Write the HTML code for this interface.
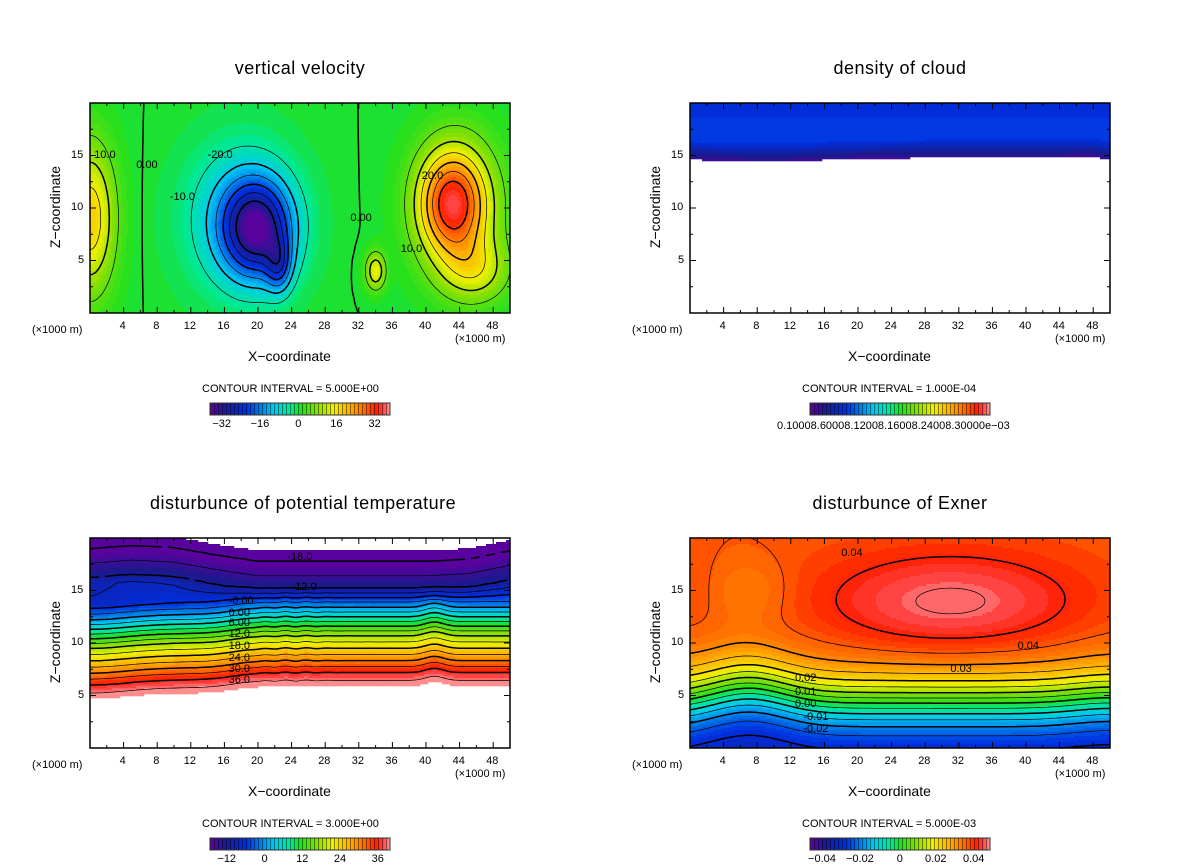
<!DOCTYPE html>
<html><head><meta charset="utf-8">
<style>
body{margin:0;background:#fff;width:1200px;height:868px;overflow:hidden;position:relative;font-family:"Liberation Sans",sans-serif;}
.t{position:absolute;white-space:nowrap;color:#000;z-index:3;}
.title{font-size:18px;letter-spacing:0.5px;text-align:center;width:300px;}
.ax{font-size:14px;}
.tk{font-size:11px;}
.ci{font-size:11px;}
</style></head>
<body>
<svg id="frames" width="1200" height="868" style="position:absolute;left:0;top:0;"></svg>
<script>
// ---- data arrays ----
const vvBlobX = [20, 22.5, 18, 43, 0, 34, 46, 44];
const vvBlobZ = [8, 4.5, 9, 10.5, 9, 4, 4, 10];
const vvBlobAmp = [-28, -14, -12, 24, 18, 14, 10, 12];
const vvBlobSx = [4, 1.5, 6, 3.8, 3, 1.2, 4, 5];
const vvBlobSz = [4.5, 2.5, 6.5, 4.8, 7, 1.8, 3, 6.5];
const ptZ = [5.2, 6.0, 6.5, 8.0, 10.0, 12.7, 13.8, 15.0, 17.8, 18.8];
const ptV = [41, 38, 36, 28, 18, 0, -6, -12, -18, -21];
const ptShiftX = [0, 5, 10, 15, 20, 30, 40, 45, 50];
const ptShift = [1.2, 1.5, 1.3, 0.6, 0, 0, 0, 0.2, 1.0];
const cloudX = [0, 10, 20, 30, 40, 48, 50];
const cloudBase = [14.6, 14.4, 14.7, 14.8, 14.8, 14.9, 14.6];
const vvTicks = [-32, -16, 0, 16, 32];
const ptTicks = [-12, 0, 12, 24, 36];
const exTicks = [-0.04, -0.02, 0, 0.02, 0.04];
const xTicks = [4, 8, 12, 16, 20, 24, 28, 32, 36, 40, 44, 48];
const zTicks = [5, 10, 15];

const stops = [[0,[96,0,160]],[0.08,[26,26,140]],[0.2,[0,48,224]],[0.35,[0,200,240]],[0.44,[0,232,150]],[0.5,[32,224,32]],[0.6,[144,224,0]],[0.68,[240,240,0]],[0.78,[255,170,0]],[0.86,[255,100,0]],[0.92,[255,30,0]],[0.96,[255,70,70]],[1,[255,160,160]]];
function cmap(t){t=Math.max(0,Math.min(1,t));for(let i=1;i<stops.length;i++){if(t<=stops[i][0]){const a=stops[i-1],b=stops[i];const f=(t-a[0])/(b[0]-a[0]);return a[1].map((v,k)=>Math.round(v+(b[1][k]-v)*f));}}return stops[stops.length-1][1];}
function interp(xs,ys,x){if(x<=xs[0])return ys[0];for(let i=1;i<xs.length;i++)if(x<=xs[i])return ys[i-1]+(ys[i]-ys[i-1])*(x-xs[i-1])/(xs[i]-xs[i-1]);return ys[ys.length-1];}
function gs(x,z,cx,cz,sx,sz){return Math.exp(-((x-cx)/sx)*((x-cx)/sx)-((z-cz)/sz)*((z-cz)/sz));}
function fVV(x,z){let s=0;for(let i=0;i<vvBlobX.length;i++)s+=vvBlobAmp[i]*gs(x,z,vvBlobX[i],vvBlobZ[i],vvBlobSx[i],vvBlobSz[i]);return s;}
function fPT(x,z){const h=0.7/(1+Math.exp(-(x-17)/1.5))-0.5*gs(x,0,0,0,6,1)+0.4*gs(x,0,41,0,1.5,1)+0.06*Math.sin(x*2.5)*gs(x,0,24,0,4,1);
 const w=Math.max(0,Math.min(1,(z-13.8)/2));const s=interp(ptShiftX,ptShift,x);
 const zz=z-h*(1-w)-s*w;
 if(zz<ptZ[0]||zz>ptZ[ptZ.length-1])return NaN;return interp(ptZ,ptV,zz);}
function fEX(x,z){const h=3.3+1.4*gs(x,0,7,0,6,1)+0.5*gs(x,0,50,0,6,1);return 0.035*Math.tanh((z-h-1)/3.5)+0.011*gs(x,z,31,13.8,16,5)-0.004*gs(x,z,7,15,5,3)+0.002*gs(x,z,0,14.5,4,4);}
function fCL(x,z){const b=interp(cloudX,cloudBase,x);if(z<b)return NaN;return 0.04+Math.min(1,(z-b)/1.8)*0.17-Math.max(0,(z-18))*0.015;}
const NS='http://www.w3.org/2000/svg';
const svg=document.getElementById('frames');
function mk(tag,attrs,parent){const e=document.createElementNS(NS,tag);for(const k in attrs)e.setAttribute(k,attrs[k]);(parent||svg).appendChild(e);return e;}
function txt(x,y,s,cls,name,extra){const d=document.createElement('div');d.className='t '+cls;d.style.left=x+'px';d.style.top=y+'px';if(extra)d.style.cssText+=extra;d.textContent=s;


document.body.appendChild(d);return d;}
function plot(P){
 const X0=P.x,Y0=P.y,W=420,H=210;
 const sx=x=>X0+x/50*W, sz=z=>Y0+H-z/20*H;
 const grp=mk('g',{});
 const cs=2;const nbands=P.bands;
 for(let j=0;j<H;j+=cs){let runStart=0,runKey=null;
  const flush=(end)=>{if(runKey!==null&&runKey!=='nan'){const t=(runKey+0.5)/nbands;const col=cmap(t);mk('rect',{x:X0+runStart,y:Y0+j,width:end-runStart+0.3,height:cs+0.3,fill:'rgb('+col.join(',')+')'},grp);}};
  for(let i=0;i<=W;i+=cs){let key='end';if(i<W){const x=(i+cs/2)/W*50,z=20-(j+cs/2)/H*20;const v=P.f(x,z);key=isNaN(v)?'nan':Math.max(0,Math.min(nbands-1,Math.floor((v-P.vmin)/(P.vmax-P.vmin)*nbands)));}
   if(key!==runKey){flush(i);runStart=i;runKey=key;}}
 }
 if(P.levels){const st=3,nx=Math.ceil(W/st)+1,nz=Math.ceil(H/st)+1;const gv=[];
  for(let j=0;j<nz;j++){gv.push([]);for(let i=0;i<nx;i++){gv[j].push(P.f(Math.min(i*st,W)/W*50,20-Math.min(j*st,H)/H*20));}}
  P.levels.forEach(L=>{let d='';
   for(let j=0;j<nz-1;j++)for(let i=0;i<nx-1;i++){const a=gv[j][i],b=gv[j][i+1],c2=gv[j+1][i+1],dd=gv[j+1][i];if(isNaN(a)||isNaN(b)||isNaN(c2)||isNaN(dd))continue;
    const pts=[];const ed=(v1,v2,ax,ay,bx,by)=>{if((v1-L)*(v2-L)<0){const t=(L-v1)/(v2-v1);pts.push([ax+(bx-ax)*t,ay+(by-ay)*t]);}};
    const x0=i*st,y0=j*st,x1=x0+st,y1=y0+st;ed(a,b,x0,y0,x1,y0);ed(b,c2,x1,y0,x1,y1);ed(c2,dd,x1,y1,x0,y1);ed(dd,a,x0,y1,x0,y0);
    for(let k=0;k+1<pts.length;k+=2){d+='M'+(X0+Math.min(W,pts[k][0])).toFixed(1)+' '+(Y0+Math.min(H,pts[k][1])).toFixed(1)+'L'+(X0+Math.min(W,pts[k+1][0])).toFixed(1)+' '+(Y0+Math.min(H,pts[k+1][1])).toFixed(1);}}
   if(d)mk('path',{d:d,fill:'none',stroke:'#000','stroke-width':P.thick(L)?1.5:0.7,'stroke-dasharray':L<0?'4 3':'none',});});
 }
 mk('rect',{x:X0,y:Y0,width:W,height:H,fill:'none',stroke:'#000','stroke-width':1.5,});
 for(let x=2;x<50;x+=2){const tl=x%4==0?6:3;mk('line',{x1:sx(x),x2:sx(x),y1:Y0+H,y2:Y0+H-tl,stroke:'#000'});mk('line',{x1:sx(x),x2:sx(x),y1:Y0,y2:Y0+tl,stroke:'#000'});}
 for(let z=2.5;z<20;z+=2.5){const tl=z%5==0?6:3;mk('line',{x1:X0,x2:X0+tl,y1:sz(z),y2:sz(z),stroke:'#000'});mk('line',{x1:X0+W,x2:X0+W-tl,y1:sz(z),y2:sz(z),stroke:'#000'});}
 xTicks.forEach(x=>txt(sx(x)-(x<10?4:7),Y0+H+7,String(x),'tk',P.name+'-x-tick'));
 zTicks.forEach(z=>txt(X0-(z<10?12:19),sz(z)-7,String(z),'tk',P.name+'-z-tick'));
 txt(X0+60,Y0-45,P.title,'title',P.name+'-title');
 txt(X0-58,Y0+H+11,'(×1000 m)','tk',P.name+'-x-unit-left');
 txt(X0+365,Y0+H+20,'(×1000 m)','tk',P.name+'-x-unit-right');
 txt(X0+158,Y0+H+35,'X−coordinate','ax',P.name+'-x-axis-title');
 txt(X0-80,Y0+H/2-9,'Z−coordinate','ax',P.name+'-z-axis-title','transform:rotate(-90deg);transform-origin:center;width:90px;text-align:center;');
 txt(X0+112,Y0+H+70,P.ci,'ci',P.name+'-contour-interval');
 const bx=X0+120,by=Y0+H+90,bw=180;
 const cb=mk('g',{});
 for(let k=0;k<bw;k++){const col=cmap(k/bw);const dark=(k%4==0)?0.55:1;mk('rect',{x:bx+k,y:by,width:1.1,height:12,fill:'rgb('+col.map(v=>Math.round(v*dark)).join(',')+')'},cb);}
 mk('rect',{x:bx,y:by,width:bw,height:12,fill:'none',stroke:'#333'},cb);
 P.ticks.forEach(t=>{const xx=bx+(t-P.vmin)/(P.vmax-P.vmin)*bw;const s=P.fmt(t);txt(xx-s.length*3.2,by+15,s,'tk',P.name+'-colorbar-tick');});
 (P.labels||[]).forEach(l=>txt(sx(l[0]),sz(l[1])-7,l[2],'tk',P.name+'-contour-label'));
}
function lv(a,b,s){const r=[];for(let v=a;v<=b+1e-9;v+=s)r.push(+v.toFixed(6));return r;}
plot({name:'vertical-velocity',x:90,y:103,f:fVV,vmin:-37,vmax:38.3,bands:60,title:'vertical velocity',ci:'CONTOUR INTERVAL = 5.000E+00',levels:lv(-30,30,5),thick:L=>Math.abs(L)%10==0,ticks:vvTicks,fmt:t=>t<0?'−'+(-t):String(t),labels:[[0.5,15,'10.0'],[5.5,14,'0.00'],[9.5,11,'-10.0'],[14,15,'-20.0'],[39.5,13,'20.0'],[31,9,'0.00'],[37,6,'10.0']]});
plot({name:'density-of-cloud',x:690,y:103,f:fCL,vmin:0,vmax:1,bands:60,title:'density of cloud',ci:'CONTOUR INTERVAL = 1.000E-04',levels:null,thick:()=>false,ticks:[],fmt:String});
txt(777,420,'0.10008.60008.12008.16008.24008.30000e−03','tk','cloud-colorbar-ticks');
plot({name:'potential-temperature',x:90,y:538,f:fPT,vmin:-17.4,vmax:39.8,bands:60,title:'disturbunce of potential temperature',ci:'CONTOUR INTERVAL = 3.000E+00',levels:lv(-18,39,3),thick:L=>L%6==0,ticks:ptTicks,fmt:t=>t<0?'−'+(-t):String(t),labels:[[23.5,18.1,'-18.0'],[24,15.2,'-12.0'],[16.5,13.9,'-6.00'],[16.5,12.8,'0.00'],[16.5,11.8,'6.00'],[16.5,10.8,'12.0'],[16.5,9.6,'18.0'],[16.5,8.5,'24.0'],[16.5,7.4,'30.0'],[16.5,6.4,'36.0']]});
plot({name:'exner',x:690,y:538,f:fEX,vmin:-0.0474,vmax:0.0475,bands:60,title:'disturbunce of Exner',ci:'CONTOUR INTERVAL = 5.000E-03',levels:lv(-0.03,0.045,0.005),thick:L=>Math.abs(Math.round(L*1000))%10==0,ticks:exTicks,fmt:t=>t==0?'0':(t<0?'−'+(-t).toFixed(2):t.toFixed(2)),labels:[[18,18.5,'0.04'],[39,9.6,'0.04'],[31,7.4,'0.03'],[12.5,6.6,'0.02'],[12.5,5.2,'0.01'],[12.5,4.1,'0.00'],[13.5,2.9,'-0.01'],[13.5,1.7,'-0.02']]});
</script>
</body></html>
